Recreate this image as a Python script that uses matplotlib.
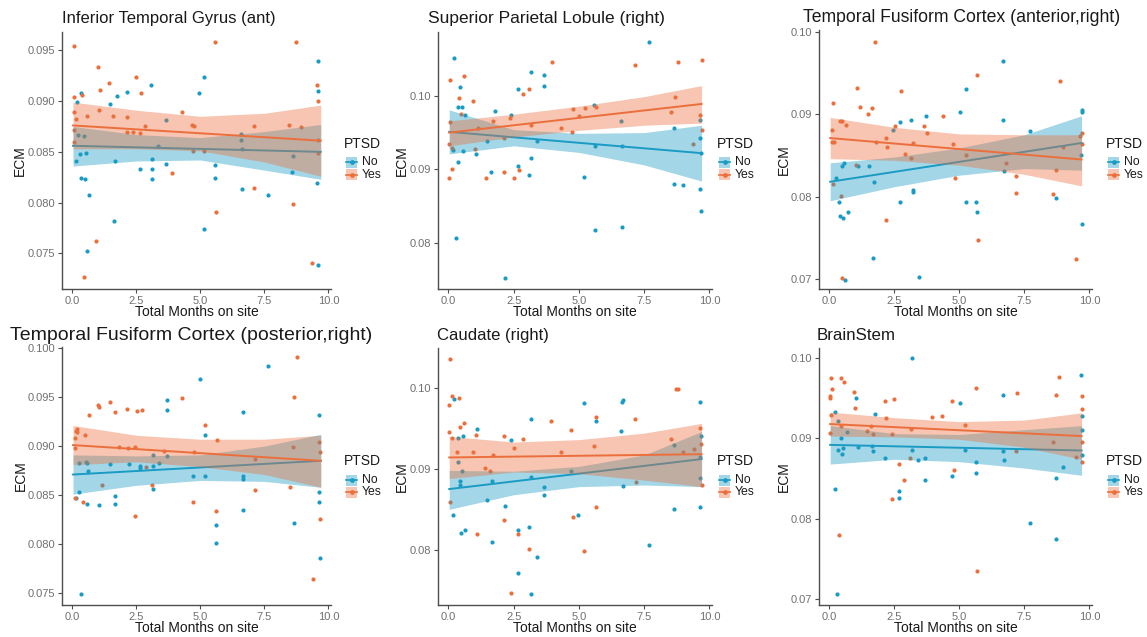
import numpy as np
import matplotlib
matplotlib.use("Agg")
import matplotlib.pyplot as plt
from matplotlib.patches import Rectangle
from matplotlib.lines import Line2D

plt.rcParams['font.family'] = ['Liberation Sans', 'DejaVu Sans']

W, H = 1147, 637
BLUE = '#1a9bc4'
ORANGE = '#eb6f3c'
BAND_ALPHA = 0.4

fit_x = [0.03, 9.7]
band_x = [0.03, 2.5, 5.0, 7.5, 9.7]

# ---- Inferior Temporal Gyrus (ant)
p1_yes_x = [0.08,0.05,0.05,0.13,0.08,0.08,0.38,0.44,0.57,1.0,1.1,1.04,0.94,1.43,1.59,2.12,2.12,2.37,2.48,2.68,2.64,2.85,3.9,4.28,4.67,4.75,5.14,5.59,5.63,7.1,7.11,8.47,8.61,8.73,8.91,9.35,9.56,9.61,9.61,9.61,4.7]
p1_yes_y = [0.0954,0.0904,0.0889,0.0882,0.0872,0.0860,0.0906,0.0727,0.0885,0.0934,0.0911,0.0891,0.0762,0.0918,0.0885,0.0884,0.0870,0.0870,0.0924,0.0908,0.0869,0.0875,0.0829,0.0889,0.0876,0.0875,0.0851,0.0958,0.0791,0.0875,0.0814,0.0876,0.0799,0.0958,0.0874,0.0741,0.0916,0.0900,0.0862,0.0849,0.0851]
p1_no_x = [0.18,0.36,0.16,0.29,0.53,0.34,0.49,0.65,0.56,0.23,0.44,1.48,1.76,2.15,1.65,1.63,2.64,3.07,3.12,3.13,3.13,3.64,3.34,3.64,4.93,5.15,5.15,5.57,5.59,6.58,6.58,6.63,7.63,8.58,8.61,9.61,9.61,9.56,9.61,6.63]
p1_no_y = [0.0899,0.0908,0.0841,0.0848,0.0849,0.0824,0.0823,0.0808,0.0752,0.0867,0.0866,0.0897,0.0905,0.0909,0.0841,0.0782,0.0833,0.0916,0.0843,0.0833,0.0823,0.0838,0.0856,0.0881,0.0908,0.0924,0.0774,0.0837,0.0824,0.0868,0.0862,0.0813,0.0808,0.0830,0.0846,0.0939,0.0910,0.0819,0.0739,0.0853]
p1_yes_fit = [0.0876, 0.0861]
p1_yes_hi = [0.0899, 0.0891, 0.0885, 0.0888, 0.0896]
p1_yes_lo = [0.0853, 0.0853, 0.0851, 0.0840, 0.0826]
p1_no_fit = [0.0856, 0.0850]
p1_no_hi = [0.0875, 0.0867, 0.0864, 0.0870, 0.0877]
p1_no_lo = [0.0836, 0.0841, 0.0842, 0.0832, 0.0823]

# ---- Superior Parietal Lobule (right)
p2_yes_x = [0.06,0.06,0.04,0.12,0.12,0.04,0.40,0.58,0.47,0.94,1.01,1.13,1.45,1.71,2.13,2.13,2.37,2.51,2.69,2.86,3.09,3.17,3.95,4.33,4.72,4.77,5.22,5.01,5.65,7.15,8.78,8.69,8.53,9.38,9.71,9.64,9.71]
p2_yes_y = [0.1021,0.0965,0.0935,0.0929,0.0900,0.0888,0.0997,0.1027,0.0975,0.0993,0.0928,0.0956,0.0888,0.0966,0.0896,0.0943,0.0970,0.0888,0.0899,0.1002,0.1010,0.0960,0.1046,0.0956,0.0951,0.0982,0.0983,0.0973,0.0985,0.1042,0.1046,0.0998,0.0978,0.0935,0.1049,0.0974,0.0954]
p2_no_x = [0.22,0.28,0.17,0.36,0.45,0.37,0.53,0.65,0.55,1.06,1.47,1.64,1.78,2.15,2.40,2.67,2.65,3.17,3.17,3.10,3.68,3.68,3.40,5.19,5.59,5.63,5.63,6.67,6.67,7.69,8.65,8.65,8.99,9.64,9.68,9.64,9.68,9.64,6.60]
p2_no_y = [0.1051,0.0806,0.0926,0.0910,0.1012,0.0985,0.0985,0.0974,0.0925,0.0921,0.0938,0.0897,0.0980,0.0752,0.0974,0.1010,0.0905,0.1032,0.0915,0.0892,0.1029,0.1014,0.0939,0.0890,0.0987,0.0818,0.0932,0.0821,0.0932,0.1073,0.0956,0.0880,0.0878,0.0943,0.0922,0.0873,0.0843,0.0967,0.0966]
p2_yes_fit = [0.0950, 0.0989]
p2_yes_hi = [0.0966, 0.0975, 0.0986, 0.0999, 0.1014]
p2_yes_lo = [0.0932, 0.0944, 0.0953, 0.0960, 0.0963]
p2_no_fit = [0.0951, 0.0922]
p2_no_hi = [0.0981, 0.0954, 0.0949, 0.0950, 0.0960]
p2_no_lo = [0.0921, 0.0932, 0.0923, 0.0906, 0.0884]

# ---- Temporal Fusiform Cortex (anterior,right)
p3_yes_x = [0.12,0.09,0.09,0.17,0.14,0.40,0.49,0.64,0.49,0.45,1.06,1.17,1.04,1.50,1.65,1.76,1.81,2.18,2.19,2.22,2.53,2.74,2.91,3.15,3.21,3.63,3.74,4.37,4.76,4.82,5.24,5.68,5.72,6.79,7.19,7.19,8.60,8.85,8.73,9.0,9.47,9.71,9.71,9.64]
p3_yes_y = [0.0914,0.0881,0.0866,0.0866,0.0815,0.0892,0.0892,0.0887,0.0701,0.0801,0.0932,0.0909,0.0838,0.0900,0.0908,0.0987,0.0866,0.0871,0.0772,0.0860,0.0886,0.0928,0.0852,0.0847,0.0865,0.0886,0.0877,0.0898,0.0864,0.0823,0.0850,0.0948,0.0747,0.0841,0.0825,0.0804,0.0803,0.0940,0.0832,0.0860,0.0724,0.0877,0.0864,0.0873]
p3_no_x = [0.24,0.35,0.41,0.54,0.71,0.49,0.58,0.60,1.09,1.73,1.69,1.51,2.44,2.73,2.71,3.14,3.22,3.22,3.44,3.73,5.03,5.24,5.24,5.65,5.68,6.67,6.67,6.72,7.73,8.71,9.71,9.71,9.71,9.68]
p3_no_y = [0.0823,0.0794,0.0776,0.0774,0.0781,0.0837,0.0841,0.0699,0.0837,0.0818,0.0725,0.0837,0.0881,0.0891,0.0794,0.0893,0.0808,0.0805,0.0703,0.0898,0.0903,0.0931,0.0794,0.0793,0.0781,0.0965,0.0893,0.0831,0.0880,0.0798,0.0905,0.0902,0.0767,0.0850]
p3_yes_fit = [0.0871, 0.0845]
p3_yes_hi = [0.0896, 0.0884, 0.0876, 0.0875, 0.0875]
p3_yes_lo = [0.0846, 0.0844, 0.0838, 0.0827, 0.0813]
p3_no_fit = [0.0818, 0.0865]
p3_no_hi = [0.0841, 0.0848, 0.0859, 0.0875, 0.0898]
p3_no_lo = [0.0795, 0.0812, 0.0826, 0.0834, 0.0832]

# ---- Temporal Fusiform Cortex (posterior,right)
p4_yes_x = [0.09,0.12,0.14,0.17,0.09,0.20,0.48,0.42,0.64,1.0,1.05,1.16,1.47,1.65,1.83,2.14,2.17,2.43,2.51,2.71,2.43,2.86,3.13,3.57,4.30,4.74,4.71,5.18,5.64,5.62,7.14,7.13,8.66,8.77,8.62,8.51,9.38,9.64,9.67,9.67]
p4_yes_y = [0.0898,0.0908,0.0915,0.0917,0.0847,0.0914,0.0911,0.0843,0.0932,0.0942,0.0940,0.0860,0.0945,0.0935,0.0899,0.0938,0.0898,0.0899,0.0936,0.0937,0.0829,0.0879,0.0860,0.0895,0.0949,0.0894,0.0843,0.0921,0.0906,0.0834,0.0887,0.0855,0.0950,0.0991,0.0899,0.0858,0.0764,0.0904,0.0894,0.0826]
p4_no_x = [0.27,0.35,0.27,0.13,0.61,0.58,0.58,0.53,1.06,1.49,1.68,1.68,2.22,2.66,2.66,3.17,3.17,3.17,3.40,3.68,3.68,3.68,4.97,5.18,5.18,4.71,5.60,5.62,6.66,6.66,6.66,6.66,7.66,8.64,9.64,9.64,9.64,9.67]
p4_no_y = [0.0883,0.0749,0.0853,0.0847,0.0875,0.0883,0.0841,0.0884,0.0840,0.0882,0.0849,0.0841,0.0882,0.0880,0.0878,0.0891,0.0880,0.0856,0.0883,0.0890,0.0937,0.0947,0.0968,0.0911,0.0869,0.0869,0.0820,0.0801,0.0869,0.0866,0.0935,0.0835,0.0982,0.0822,0.0932,0.0853,0.0843,0.0786]
p4_yes_fit = [0.0901, 0.0885]
p4_yes_hi = [0.0921, 0.0911, 0.0907, 0.0907, 0.0911]
p4_yes_lo = [0.0881, 0.0884, 0.0879, 0.0871, 0.0858]
p4_no_fit = [0.0871, 0.0885]
p4_no_hi = [0.0891, 0.0890, 0.0891, 0.0900, 0.0912]
p4_no_lo = [0.0851, 0.0860, 0.0865, 0.0864, 0.0858]

# ---- Caudate (right)
p5_yes_x = [0.06,0.04,0.12,0.40,0.04,0.12,0.06,0.45,0.58,0.32,0.94,1.04,1.09,1.42,1.60,1.71,2.12,2.12,2.50,2.86,2.68,2.38,3.10,3.94,4.31,4.71,4.76,5.19,5.64,5.65,5.58,7.15,7.18,8.73,8.81,8.53,9.42,9.64,9.68,9.71,8.99]
p5_yes_y = [0.1036,0.0979,0.0990,0.0987,0.0946,0.0938,0.0859,0.0952,0.0957,0.0921,0.0921,0.0942,0.0820,0.0901,0.0897,0.0917,0.0940,0.0837,0.0926,0.0937,0.0820,0.0747,0.0801,0.0959,0.0921,0.0948,0.0840,0.0798,0.0964,0.0853,0.0928,0.0962,0.0884,0.0998,0.0998,0.0937,0.0924,0.0950,0.0930,0.0880,0.0921]
p5_no_x = [0.22,0.17,0.35,0.36,0.46,0.45,0.51,0.55,0.47,0.65,1.09,1.47,1.67,1.68,2.17,2.40,2.65,2.65,3.09,3.17,3.17,3.17,3.40,3.67,3.67,4.71,4.96,5.19,5.64,6.67,6.69,6.60,6.69,7.67,8.65,8.65,9.64,9.68,9.64,9.64,9.64]
p5_no_y = [0.0986,0.0843,0.0909,0.0938,0.0880,0.0885,0.0897,0.0940,0.0821,0.0824,0.0949,0.0862,0.0810,0.0885,0.0854,0.0935,0.0824,0.0771,0.0828,0.0962,0.0890,0.0746,0.0791,0.0878,0.0868,0.0897,0.0843,0.0981,0.0959,0.0983,0.0985,0.0947,0.0879,0.0806,0.0851,0.0929,0.0983,0.0940,0.0914,0.0889,0.0853]
p5_yes_fit = [0.0914, 0.0918]
p5_yes_hi = [0.0940, 0.0933, 0.0936, 0.0944, 0.0956]
p5_yes_lo = [0.0888, 0.0896, 0.0894, 0.0886, 0.0878]
p5_no_fit = [0.0875, 0.0912]
p5_no_hi = [0.0898, 0.0897, 0.0903, 0.0917, 0.0946]
p5_no_lo = [0.0850, 0.0868, 0.0878, 0.0880, 0.0878]

# ---- BrainStem
p6_yes_x = [0.08,0.03,0.03,0.10,0.05,0.03,0.43,0.57,0.43,0.36,0.94,1.0,1.44,1.60,1.68,2.13,2.17,2.48,2.39,2.68,2.40,2.86,3.14,3.10,3.95,4.32,4.72,4.80,5.21,5.65,5.69,7.20,7.18,8.59,8.73,8.84,9.50,9.70,9.70,9.70,9.70]
p6_yes_y = [0.0976,0.0953,0.0950,0.0962,0.0929,0.0907,0.0975,0.0971,0.0915,0.0779,0.0958,0.0938,0.0909,0.0916,0.0905,0.0947,0.0925,0.0949,0.0905,0.0868,0.0825,0.0848,0.0912,0.0875,0.0927,0.0928,0.0947,0.0861,0.0917,0.0963,0.0734,0.0957,0.0884,0.0895,0.0954,0.0977,0.0877,0.0953,0.0937,0.0895,0.0870]
p6_no_x = [0.21,0.28,0.21,0.34,0.34,0.49,0.54,0.46,0.66,1.03,1.10,1.65,1.68,1.75,2.15,2.67,2.67,3.19,3.17,3.39,3.69,3.69,4.72,5.01,5.21,5.65,5.63,6.66,6.66,6.71,7.72,8.70,8.70,9.0,9.68,9.70,9.70,9.70]
p6_no_y = [0.0837,0.0706,0.0933,0.0922,0.0885,0.0880,0.0888,0.0900,0.0908,0.0951,0.0889,0.0890,0.0884,0.0930,0.0876,0.0835,0.0826,0.1000,0.0885,0.0873,0.0876,0.0848,0.0853,0.0944,0.0885,0.0870,0.0857,0.0954,0.0884,0.0873,0.0794,0.0851,0.0775,0.0864,0.0979,0.0928,0.0911,0.0879]
p6_yes_fit = [0.0918, 0.0903]
p6_yes_hi = [0.0933, 0.0926, 0.0921, 0.0923, 0.0932]
p6_yes_lo = [0.0903, 0.0902, 0.0899, 0.0889, 0.0874]
p6_no_fit = [0.0892, 0.0885]
p6_no_hi = [0.0916, 0.0906, 0.0905, 0.0911, 0.0916]
p6_no_lo = [0.0868, 0.0874, 0.0871, 0.0863, 0.0854]

titles = ["Inferior Temporal Gyrus (ant)", "Superior Parietal Lobule (right)",
          "Temporal Fusiform Cortex (anterior,right)", "Temporal Fusiform Cortex (posterior,right)",
          "Caudate (right)", "BrainStem"]
title_sizes = [12, 12.5, 12.7, 14, 12, 12.2]
yticks = [[0.075, 0.080, 0.085, 0.090, 0.095], [0.08, 0.09, 0.10], [0.07, 0.08, 0.09, 0.10],
          [0.075, 0.080, 0.085, 0.090, 0.095, 0.100], [0.08, 0.09, 0.10], [0.07, 0.08, 0.09, 0.10]]
ytick_fmt = ['%.3f', '%.2f', '%.2f', '%.3f', '%.2f', '%.2f']
ylims = [(0.0715, 0.0968), (0.0737, 0.1087), (0.0688, 0.1002),
         (0.0738, 0.1001), (0.0732, 0.1049), (0.0692, 0.1013)]

panels = [
    (p1_no_x, p1_no_y, p1_yes_x, p1_yes_y, p1_no_fit, p1_no_lo, p1_no_hi, p1_yes_fit, p1_yes_lo, p1_yes_hi),
    (p2_no_x, p2_no_y, p2_yes_x, p2_yes_y, p2_no_fit, p2_no_lo, p2_no_hi, p2_yes_fit, p2_yes_lo, p2_yes_hi),
    (p3_no_x, p3_no_y, p3_yes_x, p3_yes_y, p3_no_fit, p3_no_lo, p3_no_hi, p3_yes_fit, p3_yes_lo, p3_yes_hi),
    (p4_no_x, p4_no_y, p4_yes_x, p4_yes_y, p4_no_fit, p4_no_lo, p4_no_hi, p4_yes_fit, p4_yes_lo, p4_yes_hi),
    (p5_no_x, p5_no_y, p5_yes_x, p5_yes_y, p5_no_fit, p5_no_lo, p5_no_hi, p5_yes_fit, p5_yes_lo, p5_yes_hi),
    (p6_no_x, p6_no_y, p6_yes_x, p6_yes_y, p6_no_fit, p6_no_lo, p6_no_hi, p6_yes_fit, p6_yes_lo, p6_yes_hi),
]

# layout in pixels: axes box (left, top, right, bottom), title start, ylabel x, legend left
boxes = [(62, 32, 331, 289), (438, 32, 712, 289), (819, 30, 1092, 289),
         (62, 347, 331, 605), (438, 348, 712, 605), (819, 348, 1092, 605)]
title_xy = [(62, 23), (428, 23), (803, 22), (10, 340), (437, 340), (817, 340)]
ylab_x = [20, 402, 784, 21, 402, 784]
xlab_y = [312, 312, 312, 628, 628, 628]
legend_xy = [(344, 143.5), (717, 143.5), (1106, 143.5), (344, 461), (717, 461), (1106, 461)]


def fx(x):
    return x / W


def fy(y):
    return 1 - y / H


fig = plt.figure(figsize=(W / 100, H / 100), dpi=100)

for i, (nx, ny, yx, yy, nfit, nlo, nhi, yfit, ylo, yhi) in enumerate(panels):
    l, t, r, b = boxes[i]
    ax = fig.add_axes([fx(l), fy(b), (r - l) / W, (b - t) / H])
    ax.scatter(nx, ny, s=9, color=BLUE, linewidths=0, zorder=2)
    ax.scatter(yx, yy, s=9, color=ORANGE, linewidths=0, zorder=2)
    ax.fill_between(band_x, nlo, nhi, color=BLUE, alpha=BAND_ALPHA, linewidth=0, zorder=3)
    ax.plot(fit_x, nfit, color=BLUE, lw=1.4, zorder=4)
    ax.fill_between(band_x, ylo, yhi, color=ORANGE, alpha=BAND_ALPHA, linewidth=0, zorder=5)
    ax.plot(fit_x, yfit, color=ORANGE, lw=1.4, zorder=6)

    ax.set_xlim(-0.4, 10.1)
    ax.set_ylim(*ylims[i])
    ax.set_xticks([0, 2.5, 5, 7.5, 10])
    ax.set_xticklabels(['0.0', '2.5', '5.0', '7.5', '10.0'])
    ax.set_yticks(yticks[i])
    ax.set_yticklabels([ytick_fmt[i] % v for v in yticks[i]])
    for s in ['top', 'right']:
        ax.spines[s].set_visible(False)
    for s in ['left', 'bottom']:
        ax.spines[s].set_color('#4d4d4d')
        ax.spines[s].set_linewidth(1.0)
    ax.tick_params(length=3, width=0.8, color='#4d4d4d', labelcolor='#707070',
                   labelsize=8, pad=2)

    fig.text(fx(title_xy[i][0]), fy(title_xy[i][1]), titles[i], fontsize=title_sizes[i],
             ha='left', va='baseline', color='#1a1a1a')
    fig.text(fx(ylab_x[i]), fy((t + b) / 2), "ECM", rotation=90, fontsize=10,
             ha='center', va='center', color='#1a1a1a')
    fig.text(fx((l + r) / 2), fy(xlab_y[i]), "Total Months on site", fontsize=10,
             ha='center', va='center', color='#1a1a1a')

    # legend drawn by hand so it sits where ggplot put it
    lx, ly = legend_xy[i]
    fig.text(fx(lx), fy(ly), "PTSD", fontsize=10, ha='left', va='center', color='#1a1a1a')
    for k, (lab, c) in enumerate([("No", BLUE), ("Yes", ORANGE)]):
        top = ly + 13.5 + 12 * k
        fig.add_artist(Rectangle((fx(lx + 2), fy(top + 11)), 11 / W, 11 / H,
                                 transform=fig.transFigure, facecolor=c, alpha=BAND_ALPHA,
                                 edgecolor='none'))
        fig.add_artist(Line2D([fx(lx + 2), fx(lx + 13)], [fy(top + 5.5)] * 2,
                              transform=fig.transFigure, color=c, lw=1.2))
        fig.add_artist(Line2D([fx(lx + 7.5)], [fy(top + 5.5)], transform=fig.transFigure,
                              color=c, marker='o', ms=2.4, lw=0))
        fig.text(fx(lx + 18), fy(top + 5.5), lab, fontsize=8.8, ha='left', va='center',
                 color='#1a1a1a')

fig.savefig("out.png", dpi=100)
